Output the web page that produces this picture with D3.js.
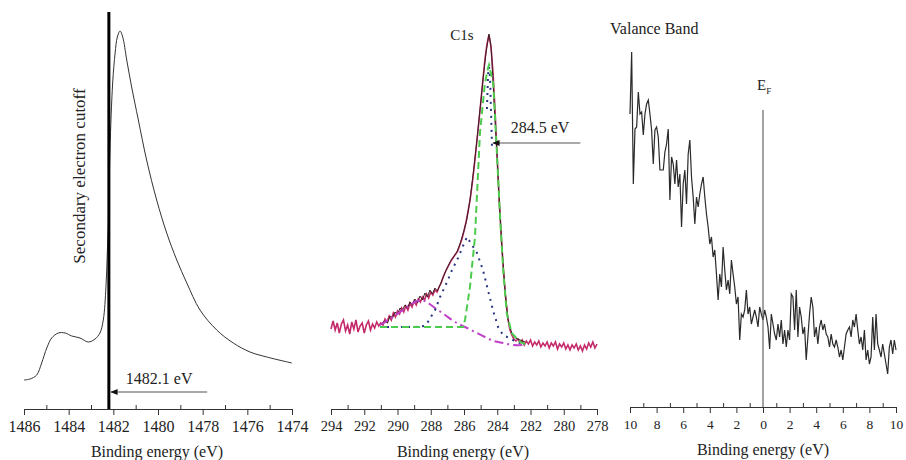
<!DOCTYPE html>
<html><head><meta charset="utf-8">
<script src="https://cdn.jsdelivr.net/npm/d3@7"></script>
</head><body style="margin:0">
<svg id="c" width="906" height="460"></svg>
<script>
// ---------- Panel 1: secondary electron cutoff ----------
const secoEnergy = [1486.00,1485.73,1485.43,1485.21,1484.98,1484.76,1484.46,1484.16,1483.86,1483.49,1483.12,1482.82,1482.60,1482.45,1482.33,1482.27,1482.21,1482.15,1482.03,1481.92,1481.82,1481.70,1481.58,1481.40,1481.18,1480.88,1480.51,1480.06,1479.61,1479.16,1478.71,1478.12,1477.37,1476.63,1475.88,1475.13,1474.01];
const secoIntensity = [29,30,34,46,61,71,76,76,73,71,67,70,76,89,122,156,192,259,326,356,372,378,372,349,322,289,249,209,176,149,126,99,79,66,57,52,46];
const cutoffLine = 1482.2;
const cutoffLabel = "1482.1 eV";
const secoTicks = [1486,1484,1482,1480,1478,1476,1474];
const secoMinor = [1485,1483,1481,1479,1477,1475];

// ---------- Panel 2: C1s ----------
const c1sStart = 294, c1sStep = 0.125;
const c1sRaw = [80,88,79,86,76,85,89,78,84,75,87,80,89,77,83,86,76,84,88,79,85,81,87,83,86,84,90,87,93,89,96,92,98,95,101,97,103,99,106,102,108,104,110,107,112,109,115,111,117,114,119,117,122,126,132,137,141,145,149,152,155,158,164,170,178,187,198,210,226,244,264,284,305,327,348,364,374,362,335,296,250,206,170,138,112,92,80,74,70,68,70,66,69,64,68,65,69,63,67,64,68,62,66,63,67,61,66,63,67,60,65,62,66,60,64,59,64,61,65,59,63,58,64,60,66,62,67,61,65];
const fitEnergy = [291.05,290.8,290.6,290.45,290.3,290.15,290.0,289.85,289.7,289.55,289.4,289.25,289.1,288.95,288.8,288.65,288.5,288.35,288.2,288.05,287.9,287.75,287.6,287.44,287.25,287.05,286.84,286.64,286.43,286.24,286.04,285.84,285.64,285.44,285.24,285.04,284.84,284.68,284.50,284.40,284.33,284.20,284.03,283.88,283.71,283.53,283.35,283.13,282.9,282.63,282.33];
const fitIntensity = [84,88,86,93,91,97,94,101,99,104,101,107,104,110,106,113,109,116,112,119,115,121,118,124,132,140,147,152,157,165,176,189,209,236,266,299,332,356,375,366,352,309,259,209,159,119,89,76,71,69,67];
const bgEnergy = [291.05,290.45,289.85,289.25,288.65,288.35,287.74,287.14,286.54,285.94,285.34,284.74,284.20,283.65,283.03,282.33];
const bgIntensity = [84,90,97,104,109,108,101,94,87,82,77,72,68,66,64,64];
const mainEnergy = [291.05,290.0,289.0,288.0,287.0,286.3,286.06,285.94,285.64,285.34,285.04,284.74,284.54,284.50,284.24,284.03,283.83,283.63,283.43,283.13,282.63,282.33];
const mainIntensity = [82,82,82,82,82,82,82,89,122,172,276,326,342,344,326,259,192,136,96,76,67,65];
const c2Energy = [291.05,289.0,288.4,288.17,287.74,287.44,287.02,286.72,286.36,286.06,285.82,285.52,285.22,284.86,284.56,284.26,283.95,283.65,283.05,282.63];
const c2Intensity = [82,82,83,87,99,112,127,139,151,163,172,164,156,139,119,99,82,74,69,66];
const c3Energy = [284.62,284.55,284.49,284.43,284.37,284.31];
const c3Intensity = [300,335,342,330,295,259];
const c1sPeakLabel = "284.5 eV";
const c1sTicks = [294,292,290,288,286,284,282,280,278];
const c1sMinor = [293,291,289,287,285,283,281,279];

// ---------- Panel 3: valence band ----------
const vbStart = 10, vbStep = 0.125;
const vbIntensity = [293,355,223,278,280,315,293,295,272,293,303,307,293,277,243,277,280,270,237,237,237,255,263,278,207,250,243,223,247,220,233,180,223,237,203,253,267,230,210,183,210,200,213,223,230,210,193,180,163,170,150,157,133,107,133,120,160,137,117,127,113,147,133,120,103,110,67,93,90,97,117,93,100,83,90,97,90,80,100,93,87,97,90,80,58,93,83,73,67,83,70,87,63,77,60,77,67,113,110,77,117,70,100,90,73,80,47,70,93,110,100,70,80,63,80,87,77,83,73,70,60,73,63,60,67,60,50,57,47,60,73,77,80,70,87,80,93,77,63,70,57,77,47,57,43,50,90,57,93,63,57,50,63,53,43,33,60,67,53,67,57];
const vbTicks = [10,8,6,4,2,0,-2,-4,-6,-8,-10];
const vbMinor = [9,7,5,3,1,-1,-3,-5,-7,-9];

const FONT = "'Liberation Serif'";
const svg = d3.select("#c");
const defs = svg.append("defs");
defs.append("marker").attr("id","ah").attr("viewBox","0 0 10 10").attr("refX",9).attr("refY",5)
  .attr("markerWidth",6).attr("markerHeight",6).attr("orient","auto-start-reverse")
  .append("path").attr("d","M0,1 L10,5 L0,9 Z").attr("fill","#111");

function label(x, y, txt, size, anchor) {
  return svg.append("text").attr("x",x).attr("y",y).attr("text-anchor",anchor||"middle")
    .attr("font-family",FONT).attr("font-size",size).attr("fill","#222").text(txt);
}

function drawAxis(x, y0, major, minor, fmt, titleX, tickFont) {
  const g = svg.append("g").attr("transform",`translate(0,${y0})`);
  g.call(d3.axisBottom(x).tickValues(major).tickSize(6).tickSizeOuter(0).tickPadding(6).tickFormat(fmt));
  g.attr("font-family", FONT).attr("font-size", tickFont);
  g.select(".domain").attr("stroke","#333");
  g.selectAll(".tick line").attr("stroke","#333");
  g.selectAll("text").attr("fill","#222").attr("font-family",FONT).attr("font-size",tickFont);
  const gm = svg.append("g").attr("transform",`translate(0,${y0})`);
  gm.call(d3.axisBottom(x).tickValues(minor).tickSize(-4).tickFormat(""));
  gm.select(".domain").remove();
  gm.selectAll(".tick line").attr("stroke","#333");
  label(titleX, y0+48, "Binding energy (eV)", 16);
}

// Panel 1
const x1 = d3.scaleLinear().domain([1486,1474]).range([24,292]);
const y1 = d3.scaleLinear().domain([0,400]).range([409,9]);
drawAxis(x1, 409, secoTicks, secoMinor, d3.format("d"), 157, 16);
svg.append("path").datum(d3.zip(secoEnergy, secoIntensity))
  .attr("fill","none").attr("stroke","#333").attr("stroke-width",1)
  .attr("d", d3.line().x(d=>x1(d[0])).y(d=>y1(d[1])).curve(d3.curveCatmullRom.alpha(0.5)));
svg.append("line").attr("x1",x1(cutoffLine)).attr("x2",x1(cutoffLine)).attr("y1",y1(397)).attr("y2",y1(0))
  .attr("stroke","#000").attr("stroke-width",3);
svg.append("line").attr("x1",x1(1477.8)).attr("x2",x1(1482.1)).attr("y1",y1(17)).attr("y2",y1(17))
  .attr("stroke","#555").attr("stroke-width",1.2).attr("marker-end","url(#ah)");
label(x1(1479.95), y1(25), cutoffLabel, 16);
label(0, 0, "Secondary electron cutoff", 17)
  .attr("x", null).attr("y", null)
  .attr("transform",`translate(${x1(1483.25)},${y1(233)}) rotate(-90)`);

// Panel 2
const x2 = d3.scaleLinear().domain([294,278]).range([331,597]);
const y2 = d3.scaleLinear().domain([0,400]).range([409,9]);
drawAxis(x2, 409, c1sTicks, c1sMinor, d3.format("d"), 463, 14.5);
const ln2 = d3.line().x(d=>x2(d[0])).y(d=>y2(d[1]));
const rawPts = c1sRaw.map((v,i)=>[c1sStart - i*c1sStep, v]);
svg.append("path").datum(rawPts).attr("fill","none").attr("stroke","#c42a6a").attr("stroke-width",1.6).attr("d",ln2);
svg.append("path").datum(d3.zip(fitEnergy,fitIntensity)).attr("fill","none").attr("stroke","#3a2020").attr("stroke-width",1).attr("d",ln2);
svg.append("path").datum(d3.zip(bgEnergy,bgIntensity)).attr("fill","none").attr("stroke","#c040c8").attr("stroke-width",2)
  .attr("stroke-dasharray","9,4,2,4").attr("d",d3.line().x(d=>x2(d[0])).y(d=>y2(d[1])).curve(d3.curveCatmullRom));
svg.append("path").datum(d3.zip(c2Energy,c2Intensity)).attr("fill","none").attr("stroke","#2a3580").attr("stroke-width",2)
  .attr("stroke-dasharray","2,5").attr("d",ln2);
svg.append("path").datum(d3.zip(c3Energy,c3Intensity)).attr("fill","none").attr("stroke","#2a3580").attr("stroke-width",2)
  .attr("stroke-dasharray","2,5").attr("d",ln2);
svg.append("path").datum(d3.zip(mainEnergy,mainIntensity)).attr("fill","none").attr("stroke","#4ccc4c").attr("stroke-width",2)
  .attr("stroke-dasharray","7,4").attr("d",ln2);
svg.append("line").attr("x1",x2(279.0)).attr("x2",x2(284.25)).attr("y1",y2(266)).attr("y2",y2(266))
  .attr("stroke","#555").attr("stroke-width",1.2).attr("marker-end","url(#ah)");
label(x2(281.43), y2(276), c1sPeakLabel, 16);
label(x2(286.12), y2(369), "C1s", 15);

// Panel 3
const x3 = d3.scaleLinear().domain([10,-10]).range([630,896]);
const y3 = d3.scaleLinear().domain([0,400]).range([407,7]);
drawAxis(x3, 407, vbTicks, vbMinor, d=>Math.abs(d), 763, 13.5);
const vbPts = vbIntensity.map((v,i)=>[vbStart - i*vbStep, v]);
svg.append("path").datum(vbPts).attr("fill","none").attr("stroke","#2a2a2a").attr("stroke-width",1.2)
  .attr("d", d3.line().x(d=>x3(d[0])).y(d=>y3(d[1])));
svg.append("line").attr("x1",x3(0)).attr("x2",x3(0)).attr("y1",y3(297)).attr("y2",y3(0))
  .attr("stroke","#666").attr("stroke-width",1.2);
const ef = label(x3(0.45), y3(317), "", 15, "start");
ef.append("tspan").text("E");
ef.append("tspan").attr("dy",4).attr("font-size",9).text("F");
label(x3(11.5), y3(373), "Valance Band", 16, "start");
</script>
</body></html>
